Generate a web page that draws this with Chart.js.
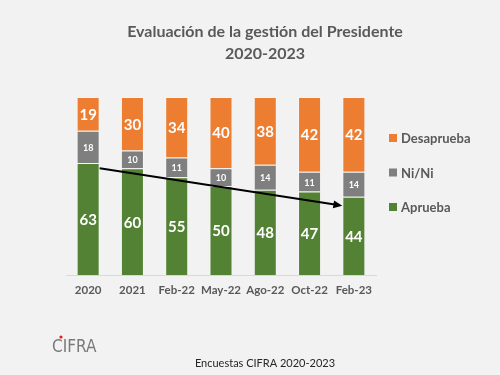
<!DOCTYPE html>
<html>
<head>
<meta charset="utf-8">
<script src="https://cdn.jsdelivr.net/npm/chart.js@4.4.0/dist/chart.umd.min.js"></script>
<style>
  html, body { margin: 0; padding: 0; background: #f2f2f2; }
</style>
</head>
<body>
<canvas id="chart" width="500" height="375"></canvas>
<script>
// Data
const categories = ['2020', '2021', 'Feb-22', 'May-22', 'Ago-22', 'Oct-22', 'Feb-23'];
const aprueba = [63, 60, 55, 50, 48, 47, 44];
const nini = [18, 10, 11, 10, 14, 11, 14];
const desaprueba = [19, 30, 34, 40, 38, 42, 42];
const trendEnds = [60, 39]; // arrow start (first bar) / end (last bar)
const titleLines = ['Evaluación de la gestión del Presidente', '2020-2023'];
const footerText = 'Encuestas CIFRA 2020-2023';

const GREEN = '#548235', GRAY = '#7f7f7f', ORANGE = '#ed7d31';
const TEXT = '#595959';
const FONT = 'Lato, "Open Sans", sans-serif';

// background
const bgPlugin = {
  id: 'bg',
  beforeDraw(chart) {
    const ctx = chart.ctx;
    ctx.save();
    ctx.fillStyle = '#f2f2f2';
    ctx.fillRect(0, 0, chart.width, chart.height);
    ctx.restore();
  }
};

// white numbers inside each segment
const labelPlugin = {
  id: 'segLabels',
  afterDatasetsDraw(chart) {
    const ctx = chart.ctx;
    ctx.save();
    ctx.fillStyle = '#ffffff';
    ctx.textAlign = 'center';
    ctx.textBaseline = 'middle';
    chart.data.datasets.forEach((ds, i) => {
      const meta = chart.getDatasetMeta(i);
      const small = ds.label === 'Ni/Ni';
      ctx.font = 'bold ' + (small ? 9 : 15) + 'px ' + FONT;
      meta.data.forEach((bar, j) => {
        const y = (bar.y + bar.base) / 2;
        ctx.fillText(String(ds.data[j]), bar.x, y + 1);
      });
    });
    ctx.restore();
  }
};

// trend arrow
const arrowPlugin = {
  id: 'trendArrow',
  afterDatasetsDraw(chart) {
    const x = chart.scales.x, y = chart.scales.y;
    const meta = chart.getDatasetMeta(0);
    const half = meta.data[0].width / 2;
    const x1 = x.getPixelForValue(0) + half;
    const x2 = x.getPixelForValue(categories.length - 1) - half;
    const y1 = y.getPixelForValue(trendEnds[0]);
    const y2 = y.getPixelForValue(trendEnds[1]);
    const ang = Math.atan2(y2 - y1, x2 - x1);
    const ctx = chart.ctx;
    ctx.save();
    ctx.strokeStyle = '#000';
    ctx.fillStyle = '#000';
    ctx.lineWidth = 2;
    ctx.beginPath();
    ctx.moveTo(x1, y1);
    ctx.lineTo(x2 - 6 * Math.cos(ang), y2 - 6 * Math.sin(ang));
    ctx.stroke();
    ctx.beginPath();
    ctx.moveTo(x2, y2);
    ctx.lineTo(x2 - 9 * Math.cos(ang) + 4 * Math.sin(ang), y2 - 9 * Math.sin(ang) - 4 * Math.cos(ang));
    ctx.lineTo(x2 - 9 * Math.cos(ang) - 4 * Math.sin(ang), y2 - 9 * Math.sin(ang) + 4 * Math.cos(ang));
    ctx.closePath();
    ctx.fill();
    ctx.restore();
  }
};

// title, legend, footer and logo
const decorPlugin = {
  id: 'decor',
  afterDraw(chart) {
    const ctx = chart.ctx;
    ctx.save();
    ctx.textBaseline = 'middle';

    // title
    ctx.fillStyle = TEXT;
    ctx.textAlign = 'center';
    ctx.font = 'bold 16px ' + FONT;
    ctx.fillText(titleLines[0], 265, 32);
    ctx.fillText(titleLines[1], 265, 54);

    // legend (top to bottom: Desaprueba, Ni/Ni, Aprueba)
    ctx.textAlign = 'left';
    ctx.font = 'bold 13px ' + FONT;
    const items = chart.data.datasets.slice().reverse();
    items.forEach((ds, k) => {
      const cy = 138 + k * 34.5;
      ctx.fillStyle = ds.backgroundColor;
      ctx.fillRect(389, cy - 4, 8, 8);
      ctx.fillStyle = TEXT;
      ctx.fillText(ds.label, 401, cy + 1);
    });

    // footer
    ctx.fillStyle = '#262626';
    ctx.textAlign = 'center';
    ctx.font = '11px ' + FONT;
    ctx.fillText(footerText, 265, 363);

    // logo
    ctx.textAlign = 'left';
    ctx.fillStyle = '#7a7a7a';
    ctx.font = '17px "DejaVu Sans Condensed", sans-serif';
    ctx.fillText('CIFRA', 52, 348);
    ctx.fillStyle = '#e0201b';
    ctx.beginPath();
    ctx.arc(61, 337, 1.6, 0, Math.PI * 2);
    ctx.fill();

    ctx.restore();
  }
};

new Chart(document.getElementById('chart'), {
  type: 'bar',
  data: {
    labels: categories,
    datasets: [
      { label: 'Aprueba', data: aprueba, backgroundColor: GREEN },
      { label: 'Ni/Ni', data: nini, backgroundColor: GRAY },
      { label: 'Desaprueba', data: desaprueba, backgroundColor: ORANGE }
    ].map(d => Object.assign(d, {
      borderColor: 'rgba(255,255,255,0.35)',
      borderWidth: 1,
      categoryPercentage: 1,
      barPercentage: 0.52
    }))
  },
  options: {
    responsive: false,
    animation: false,
    layout: { padding: { left: 66, right: 124, top: 97, bottom: 70 } },
    plugins: {
      legend: { display: false },
      title: { display: false },
      tooltip: { enabled: false }
    },
    scales: {
      x: {
        stacked: true,
        grid: { display: false, drawTicks: false },
        border: { display: true, color: '#d9d9d9', width: 1 },
        ticks: {
          color: TEXT,
          font: { family: FONT, size: 11.5, weight: 'bold' },
          padding: 8,
          maxRotation: 0,
          minRotation: 0,
          autoSkip: false
        }
      },
      y: {
        stacked: true,
        display: false,
        min: 0,
        max: 100
      }
    }
  },
  plugins: [bgPlugin, labelPlugin, arrowPlugin, decorPlugin]
});
</script>
</body>
</html>
